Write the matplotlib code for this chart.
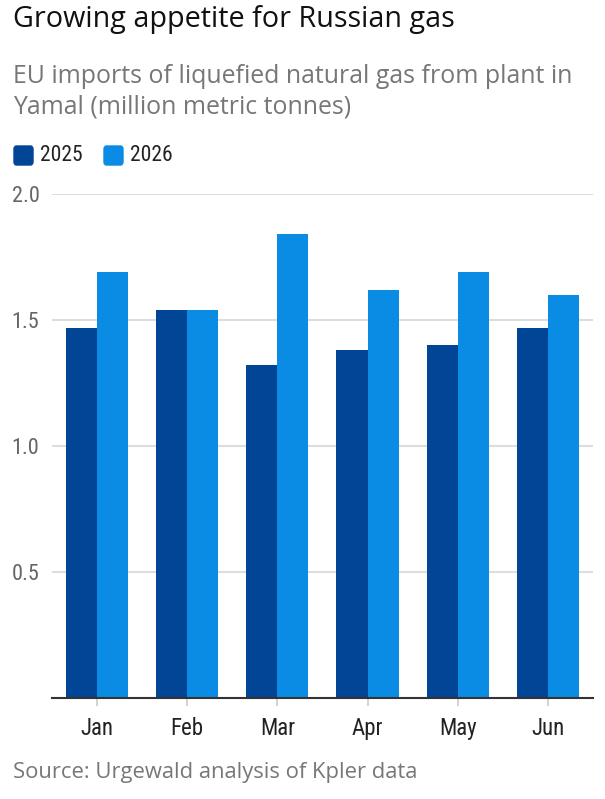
import matplotlib
matplotlib.use('Agg')
import matplotlib.pyplot as plt
from matplotlib.patches import FancyBboxPatch
import numpy as np

months = ['Jan', 'Feb', 'Mar', 'Apr', 'May', 'Jun']
imports_2025 = [1.47, 1.54, 1.32, 1.38, 1.40, 1.47]
imports_2026 = [1.69, 1.54, 1.84, 1.62, 1.69, 1.60]
yticks = [0.5, 1.0, 1.5, 2.0]
ytick_labels = ['0.5', '1.0', '1.5', '2.0']

dark = '#004596'
light = '#0a8ce5'
narrow = ['Liberation Sans Narrow', 'Roboto Condensed', 'DejaVu Sans']

plt.rcParams['font.family'] = ['Open Sans', 'DejaVu Sans']

fig = plt.figure(figsize=(6.05, 7.99), dpi=100)
ax = fig.add_axes([0.086, 0.1264, 0.894, 0.6306])

x = np.arange(len(months))
w = 0.345
ax.bar(x - w / 2, imports_2025, w, color=dark, zorder=3)
ax.bar(x + w / 2, imports_2026, w, color=light, zorder=3)

ax.set_xlim(-0.5, 5.5)
ax.set_ylim(0, 2.0)
ax.set_yticks(yticks)
ax.set_yticklabels(ytick_labels, family=narrow, fontsize=16, color='#666666')
ax.set_xticks(x)
ax.set_xticklabels(months, family=narrow, fontsize=16.5, color='#222222')
ax.tick_params(axis='y', length=0, pad=9)
ax.tick_params(axis='x', length=6, color='#cccccc', width=1.2, pad=8)
ax.grid(axis='y', color='#dddddd', linewidth=1.5, zorder=0)
for s in ['top', 'right', 'left']:
    ax.spines[s].set_visible(False)
ax.spines['bottom'].set_color('#333333')
ax.spines['bottom'].set_linewidth(1.5)
ax.spines['bottom'].set_zorder(4)

fig.text(13 / 605, 1 - 27 / 799, 'Growing appetite for Russian gas', fontsize=20.7,
         color='#111111', va='baseline', ha='left')
fig.text(13 / 605, 1 - 83 / 799, 'EU imports of liquefied natural gas from plant in',
         fontsize=17.9, color='#777777', va='baseline', ha='left')
fig.text(13 / 605, 1 - 113 / 799, 'Yamal (million metric tonnes)',
         fontsize=17.9, color='#777777', va='baseline', ha='left')

# legend
for i, (lab, col) in enumerate([('2025', dark), ('2026', light)]):
    x0 = 14 + i * 90
    box = FancyBboxPatch((x0 / 605, 1 - 165 / 799), 19 / 605, 19 / 799,
                         boxstyle='round,pad=0,rounding_size=0.004',
                         transform=fig.transFigure, color=col)
    fig.patches.append(box)
    fig.text((x0 + 26) / 605, 1 - 155.5 / 799, lab, family=narrow, fontsize=15.5,
             color='#222222', va='center', ha='left')

fig.text(13 / 605, 1 - 778 / 799, 'Source: Urgewald analysis of Kpler data',
         fontsize=15.8, color='#777777', va='baseline', ha='left')

fig.savefig('out.png', dpi=100)
